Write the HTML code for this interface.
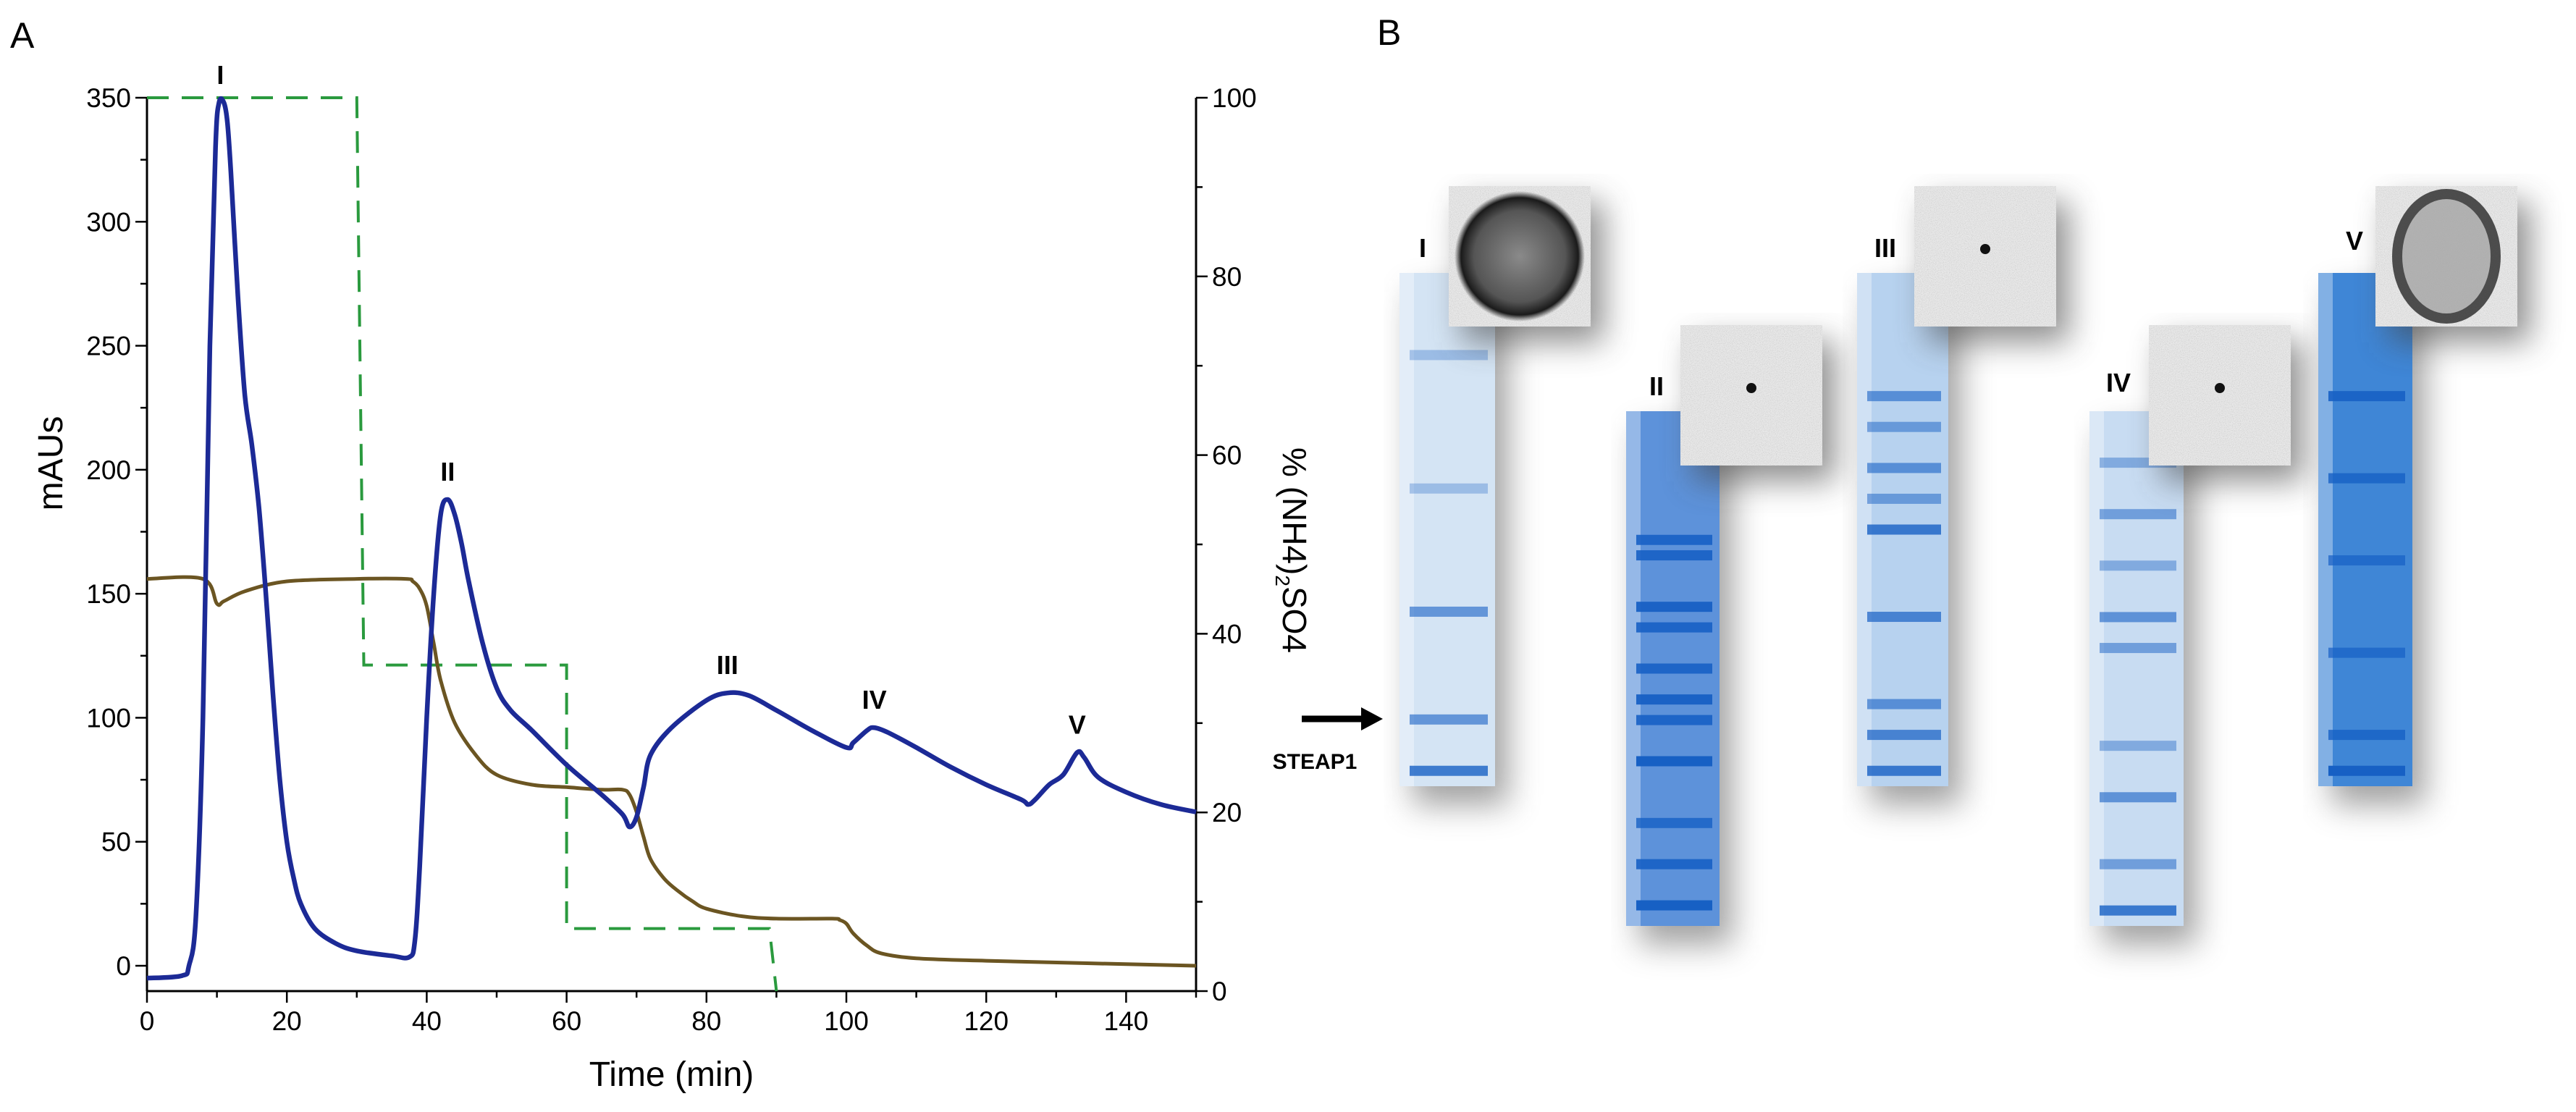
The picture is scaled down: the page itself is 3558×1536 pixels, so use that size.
<!DOCTYPE html>
<html><head><meta charset="utf-8"><style>
html,body{margin:0;padding:0;background:#fff;}
svg{display:block;font-family:"Liberation Sans",sans-serif;}
</style></head><body>
<svg id="fig" width="3558" height="1536" viewBox="0 0 3558 1536">
<defs>
<filter id="sh" x="-30%" y="-20%" width="180%" height="150%"><feGaussianBlur stdDeviation="22"/></filter>
<filter id="noise" x="0" y="0" width="100%" height="100%">
<feTurbulence type="fractalNoise" baseFrequency="0.9" numOctaves="2" seed="3"/>
<feColorMatrix type="matrix" values="0 0 0 0 0.5 0 0 0 0 0.5 0 0 0 0 0.5 0 0 0 -2.2 1.3"/>
</filter>
<radialGradient id="ringI"><stop offset="0" stop-color="#8a8a8a"/><stop offset="0.7" stop-color="#555"/><stop offset="0.9" stop-color="#1a1a1a"/><stop offset="1" stop-color="#222" stop-opacity="0"/></radialGradient>
</defs>
<text x="14" y="66" font-size="50">A</text>
<text x="1902" y="62" font-size="50">B</text>
<g id="chart"></g>
<g id="gels"></g>
</svg>
<script>
const timeBlue=[0,5,6,7,8,9,9.8,10.3,11,11.5,12,13,14,15,16,17,18,19,20,21,22,24,27,30,35,37.5,38.3,39,40,41,42,43,44,45,46,48,50,52,55,60,65,68,69,70,71,72,75,80,83,86,90,95,100,101,103,104,106,110,115,120,125,126,127,129,131,133,134,136,140,145,150];
const mauBlue=[-5,-4,0,20,100,250,330,348,348,340,320,270,230,210,185,150,110,75,50,35,25,15,9,6,4,3.5,10,40,100,150,182,188,182,170,155,130,112,103,95,81,69,61,56,60,72,85,96,107,110,109,103,95,88,90,95,96,94,88,80,73,67,65,67,73,77,86,84,76,70,65,62];
const timeBrown=[0,8,10,11,14,20,30,37,38,39,40,41,42,44,47,50,55,60,65,68,69,70,71,72,74,76,78,80,85,90,98,99,100,101,103,105,110,120,150];
const condBrown=[156,156,146,147,151,155,156,156,155,152,145,130,115,98,85,77,73,72,71,71,69,62,52,43,35,30,26,23,20,19,19,18.5,17,13,8,5,3,2,0];
const timeGreen=[0,30,31,60,60,89,90];
const pctGreen=[100,100,36.5,36.5,7,7,0];
const xTicks=[0,20,40,60,80,100,120,140];
const yTicks=[0,50,100,150,200,250,300,350];
const rTicks=[0,20,40,60,80,100];
const peakLabels=["I","II","III","IV","V"];
const peakTimes=[10.5,43,83,104,133];
const peakVals=[348,188,110,96,86];

const NS="http://www.w3.org/2000/svg";
const X0=203,X1=1652,YB=1369;
const sx=t=>X0+(X1-X0)*t/150;
const sy=v=>1334-(1334-135)*v/350;
const sr=p=>1369-(1369-135)*p/100;
const chart=document.getElementById('chart');
function mk(tag,attrs,parent){const e=document.createElementNS(NS,tag);for(const k in attrs)e.setAttribute(k,attrs[k]);(parent||chart).appendChild(e);return e;}

let e;
e=mk('line',{x1:X0,y1:sy(350),x2:X0,y2:YB,stroke:'#000','stroke-width':3});


e=mk('line',{x1:X1,y1:sr(100),x2:X1,y2:YB,stroke:'#000','stroke-width':3});


e=mk('line',{x1:X0,y1:YB,x2:X1,y2:YB,stroke:'#000','stroke-width':3});



for(let t=0;t<=150;t+=10){const major=xTicks.includes(t);mk('line',{x1:sx(t),y1:YB,x2:sx(t),y2:YB+(major?16:9),stroke:'#000','stroke-width':2.5});}
xTicks.forEach(t=>{e=mk('text',{x:sx(t),y:YB+54,'font-size':37,'text-anchor':'middle'});e.textContent=t;

});
for(let v=0;v<=350;v+=25){const major=yTicks.includes(v);mk('line',{x1:X0,y1:sy(v),x2:X0-(major?16:9),y2:sy(v),stroke:'#000','stroke-width':2.5});}
yTicks.forEach(v=>{e=mk('text',{x:X0-22,y:sy(v)+13,'font-size':37,'text-anchor':'end'});e.textContent=v;

});
for(let p=0;p<=100;p+=10){const major=rTicks.includes(p);mk('line',{x1:X1,y1:sr(p),x2:X1+(major?16:9),y2:sr(p),stroke:'#000','stroke-width':2.5});}
rTicks.forEach(p=>{e=mk('text',{x:X1+22,y:sr(p)+13,'font-size':37,'text-anchor':'start'});e.textContent=p;

});

e=mk('text',{x:sx(75),y:1500,'font-size':48,'text-anchor':'middle'});e.textContent='Time (min)';


e=mk('text',{x:0,y:0,'font-size':48,'text-anchor':'middle',transform:'translate(86,640) rotate(-90)'});e.textContent='mAUs';


e=mk('text',{x:0,y:0,'font-size':46,'text-anchor':'middle',transform:'translate(1772,760) rotate(90)'});
e.innerHTML='% (NH4)<tspan font-size="28" dy="10">2</tspan><tspan dy="-10">SO4</tspan>';



function smooth(ts,vs,f){
 const P=ts.map((t,i)=>[sx(t),f(vs[i])]);
 let d='M'+P[0][0].toFixed(1)+','+P[0][1].toFixed(1);
 for(let i=0;i<P.length-1;i++){
  const p0=P[Math.max(0,i-1)],p1=P[i],p2=P[i+1],p3=P[Math.min(P.length-1,i+2)];
  const c1=[p1[0]+(p2[0]-p0[0])/6,p1[1]+(p2[1]-p0[1])/6];
  const c2=[p2[0]-(p3[0]-p1[0])/6,p2[1]-(p3[1]-p1[1])/6];
  d+=' C'+c1.map(v=>v.toFixed(1)).join(',')+' '+c2.map(v=>v.toFixed(1)).join(',')+' '+p2.map(v=>v.toFixed(1)).join(',');
 }
 return d;
}
const pts=(ts,vs,f)=>ts.map((t,i)=>sx(t).toFixed(1)+','+f(vs[i]).toFixed(1)).join(' ');
e=mk('polyline',{points:pts(timeGreen,pctGreen,sr),fill:'none',stroke:'#2a9a3e','stroke-width':4,'stroke-dasharray':'30,18'});


e=mk('path',{d:smooth(timeBrown,condBrown,sy),fill:'none',stroke:'#6b5522','stroke-width':5,'stroke-linejoin':'round'});


e=mk('path',{d:smooth(timeBlue,mauBlue,sy),fill:'none',stroke:'#1c2a96','stroke-width':6.5,'stroke-linejoin':'round'});


peakLabels.forEach((l,i)=>{e=mk('text',{x:sx(peakTimes[i]),y:sy(peakVals[i])-26,'font-size':36,'font-weight':'bold','text-anchor':'middle'});e.textContent=l;

});

const gels=document.getElementById('gels');
const lanes=[
 {l:'I',x:1933,y:377,w:132,h:709,ix:2001,iy:257,lx:1965,ly:355,bg:'#d4e4f4',bands:[[0.16,0.3],[0.42,0.3],[0.66,0.6],[0.87,0.6],[0.97,0.8]],img:'ring'},
 {l:'II',x:2246,y:568,w:129,h:711,ix:2321,iy:449,lx:2288,ly:546,bg:'#5d92da',bands:[[0.25,0.9],[0.28,0.9],[0.38,0.95],[0.42,0.9],[0.5,0.9],[0.56,0.95],[0.6,0.9],[0.68,1],[0.8,0.8],[0.88,0.9],[0.96,1]],img:'dot'},
 {l:'III',x:2565,y:377,w:126,h:709,ix:2644,iy:257,lx:2604,ly:355,bg:'#b7d2ef',bands:[[0.24,0.6],[0.3,0.5],[0.38,0.6],[0.44,0.5],[0.5,0.8],[0.67,0.7],[0.84,0.6],[0.9,0.7],[0.97,0.8]],img:'dot'},
 {l:'IV',x:2886,y:568,w:130,h:711,ix:2968,iy:449,lx:2926,ly:541,bg:'#c8dcf2',bands:[[0.1,0.4],[0.2,0.5],[0.3,0.4],[0.4,0.6],[0.46,0.5],[0.65,0.4],[0.75,0.6],[0.88,0.5],[0.97,0.8]],img:'dot'},
 {l:'V',x:3202,y:377,w:130,h:709,ix:3281,iy:257,lx:3252,ly:345,bg:'#3f86d6',bands:[[0.24,0.9],[0.4,0.8],[0.56,0.7],[0.74,0.7],[0.9,0.8],[0.97,1]],img:'ring2'}
];
function g(tag,attrs,parent){return mk(tag,attrs,parent||gels);}
lanes.forEach((L,i)=>{
 const grp=g('g',{});
 
 
 g('rect',{x:L.x+18,y:L.y+26,width:L.w,height:L.h,fill:'#555',opacity:0.55,filter:'url(#sh)'},grp);
 g('rect',{x:L.x,y:L.y,width:L.w,height:L.h,fill:L.bg},grp);
 g('rect',{x:L.x,y:L.y,width:20,height:L.h,fill:'#ffffff',opacity:0.35},grp);
 L.bands.forEach(b=>{g('rect',{x:L.x+14,y:L.y+L.h*b[0]-7,width:L.w-24,height:14,fill:'#1760c4',opacity:b[1]},grp);});
 const ig=g('g',{});
 
 
 g('rect',{x:L.ix+18,y:L.iy+22,width:196,height:194,fill:'#444',opacity:0.6,filter:'url(#sh)'},ig);
 g('rect',{x:L.ix,y:L.iy,width:196,height:194,fill:'#e8e8e8'},ig);
 g('rect',{x:L.ix,y:L.iy,width:196,height:194,filter:'url(#noise)',opacity:0.6},ig);
 const cx=L.ix+98,cy=L.iy+97;
 if(L.img==='ring'){g('circle',{cx:cx,cy:cy,r:90,fill:'url(#ringI)'},ig);}
 else if(L.img==='ring2'){g('ellipse',{cx:cx,cy:cy,rx:68,ry:86,fill:'#a8a8a8',stroke:'#333','stroke-width':14,opacity:0.85},ig);}
 else {g('circle',{cx:cx,cy:cy-10,r:7,fill:'#111'},ig);}
 const t=g('text',{x:L.lx,y:L.ly,'font-size':36,'font-weight':'bold','text-anchor':'middle'});
 t.textContent=L.l;
 
 
});
e=g('line',{x1:1798,y1:993,x2:1885,y2:993,stroke:'#000','stroke-width':9});


e=g('polygon',{points:'1880,977 1910,993 1880,1009',fill:'#000'});


e=g('text',{x:1816,y:1062,'font-size':30,'font-weight':'bold','text-anchor':'middle'});
e.textContent='STEAP1';


</script>
</body></html>
